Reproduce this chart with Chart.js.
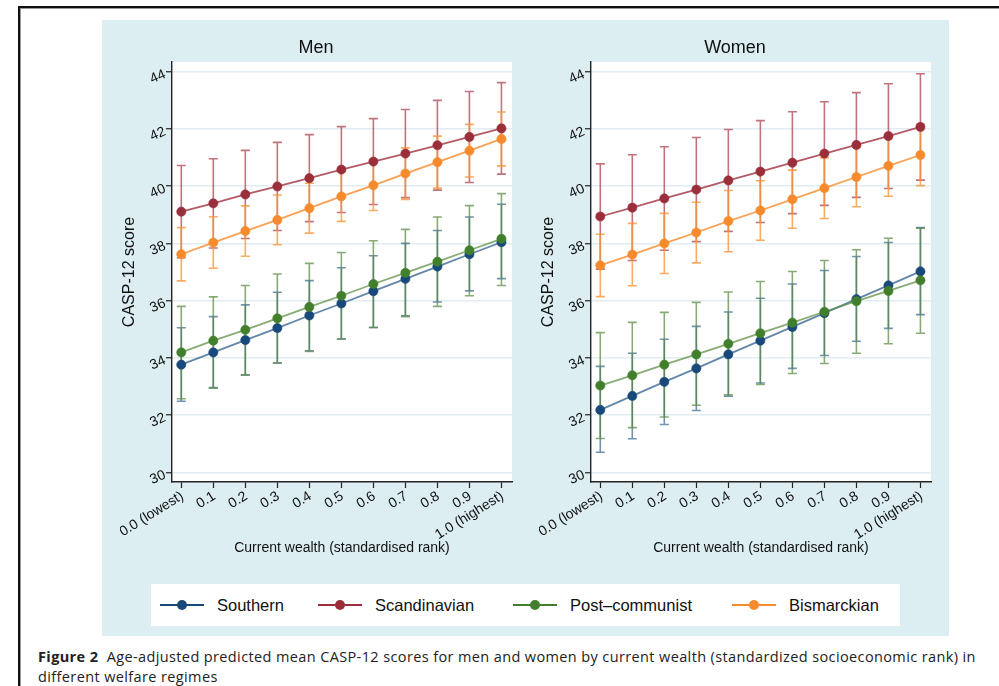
<!DOCTYPE html>
<html>
<head>
<meta charset="utf-8">
<script src="https://cdn.jsdelivr.net/npm/chart.js@4.4.1/dist/chart.umd.min.js"></script>
<style>
html,body{margin:0;padding:0;background:#fff;}
body{width:999px;height:686px;position:relative;overflow:hidden;font-family:"Liberation Sans",Arial,sans-serif;}
#frame{position:absolute;left:18px;top:6px;width:990px;height:700px;border-top:2px solid #111;border-left:2px solid #111;}
#frame2{position:absolute;left:20px;top:8px;width:990px;height:700px;border-top:1px solid #999;border-left:1px solid #999;}
#bg{position:absolute;left:102px;top:20px;width:847px;height:616px;background:#ddeef2;}
#cm{position:absolute;left:120px;top:20px;}
#cw{position:absolute;left:539px;top:20px;}
#legend{position:absolute;left:151px;top:584px;width:749px;height:42px;background:#fff;}
.item{position:absolute;top:0;height:42px;display:flex;align-items:center;font-size:16.5px;color:#111;white-space:nowrap;}
.mk{position:relative;width:44px;height:10px;margin-right:13px;}
.mk:before{content:"";position:absolute;left:0;right:0;top:4px;height:2px;background:var(--c);}
.mk:after{content:"";position:absolute;left:17px;top:0;width:10px;height:10px;border-radius:50%;background:var(--c);}
#cap{position:absolute;left:38px;top:647px;width:960px;font-family:"Open Sans",sans-serif;font-size:14.5px;letter-spacing:0.38px;line-height:20px;color:#222;white-space:nowrap;}
#cap b{font-weight:700;}
</style>
</head>
<body>
<div id="frame"></div>
<div id="frame2"></div>
<div id="bg"></div>
<canvas id="cm" width="405" height="560"></canvas>
<canvas id="cw" width="409" height="560"></canvas>
<div id="legend"></div>
<div id="cap"><b>Figure 2</b>&nbsp; Age-adjusted predicted mean CASP-12 scores for men and women by current wealth (standardized socioeconomic rank) in<br>different welfare regimes</div>
<script>
// ---------- data ----------
const wealth = [0, 0.1, 0.2, 0.3, 0.4, 0.5, 0.6, 0.7, 0.8, 0.9, 1.0];
const xTickLabels = ["0.0 (lowest)", "0.1", "0.2", "0.3", "0.4", "0.5", "0.6", "0.7", "0.8", "0.9", "1.0 (highest)"];
const yTicks = [30, 32, 34, 36, 38, 40, 42, 44];
const regimes = ["Southern", "Scandinavian", "Post\u2013communist", "Bismarckian"];

// Men
const southernMen   = [33.76,34.19,34.62,35.04,35.48,35.90,36.33,36.76,37.19,37.62,38.04];
const southernMenLo = [32.48,32.96,33.41,33.82,34.25,34.66,35.06,35.47,35.95,36.34,36.77];
const southernMenHi = [35.05,35.44,35.85,36.29,36.70,37.15,37.57,38.00,38.45,38.92,39.37];
const scandMen      = [39.11,39.40,39.71,39.99,40.28,40.58,40.86,41.14,41.43,41.72,42.02];
const scandMenLo    = [37.50,37.84,38.17,38.45,38.76,39.08,39.36,39.60,39.86,40.13,40.42];
const scandMenHi    = [40.72,40.96,41.25,41.53,41.80,42.08,42.36,42.68,43.00,43.31,43.62];
const postcomMen    = [34.19,34.60,34.98,35.38,35.78,36.17,36.58,36.97,37.36,37.76,38.16];
const postcomMenLo  = [32.57,32.94,33.39,33.82,34.22,34.66,35.06,35.44,35.80,36.17,36.53];
const postcomMenHi  = [35.80,36.13,36.53,36.93,37.30,37.68,38.09,38.49,38.92,39.32,39.74];
const bismMen       = [37.62,38.03,38.43,38.82,39.23,39.64,40.03,40.44,40.84,41.24,41.65];
const bismMenLo     = [36.69,37.13,37.55,37.95,38.36,38.77,39.15,39.54,39.93,40.32,40.71];
const bismMenHi     = [38.55,38.93,39.31,39.69,40.10,40.51,40.91,41.34,41.75,42.16,42.59];

// Women
const southernWomen   = [32.18,32.67,33.16,33.63,34.12,34.60,35.08,35.56,36.05,36.53,37.02];
const southernWomenLo = [30.70,31.17,31.67,32.16,32.66,33.12,33.63,34.08,34.58,35.03,35.51];
const southernWomenHi = [33.70,34.16,34.65,35.10,35.60,36.08,36.58,37.05,37.54,38.03,38.55];
const scandWomen      = [38.94,39.25,39.57,39.88,40.20,40.51,40.82,41.14,41.44,41.75,42.07];
const scandWomenLo    = [37.10,37.40,37.76,38.06,38.42,38.73,39.04,39.33,39.61,39.92,40.21];
const scandWomenHi    = [40.78,41.10,41.38,41.70,41.98,42.29,42.60,42.95,43.27,43.58,43.93];
const postcomWomen    = [33.03,33.39,33.76,34.12,34.49,34.86,35.23,35.61,35.98,36.34,36.71];
const postcomWomenLo  = [31.18,31.56,31.93,32.34,32.71,33.07,33.45,33.80,34.16,34.49,34.86];
const postcomWomenHi  = [34.88,35.24,35.59,35.94,36.30,36.67,37.02,37.40,37.78,38.18,38.53];
const bismWomen       = [37.23,37.61,38.00,38.38,38.78,39.15,39.54,39.93,40.32,40.71,41.09];
const bismWomenLo     = [36.14,36.52,36.95,37.32,37.71,38.11,38.53,38.87,39.28,39.65,40.02];
const bismWomenHi     = [38.32,38.70,39.05,39.44,39.85,40.19,40.56,40.99,41.36,41.77,42.16];

// ---------- styles ----------
const dotColors  = ["#18497a", "#9a2f3b", "#427f2c", "#f68b2e"];
const lineColors = ["rgba(40,88,135,0.72)", "rgba(160,50,62,0.8)", "rgba(95,145,70,0.75)", "rgba(247,145,55,0.85)"];
const ciColors   = ["rgba(40,88,135,0.65)", "rgba(165,55,68,0.7)", "rgba(85,135,60,0.7)", "rgba(248,150,60,0.8)"];
const FONT = '"Liberation Sans", Arial, sans-serif';

const errorBars = {
  id: 'errorBars',
  beforeDatasetsDraw(chart) {
    const {ctx, scales: {x, y}} = chart;
    ctx.save();
    chart.data.datasets.forEach(ds => {
      ctx.strokeStyle = ds.ciColor;
      ctx.lineWidth = 1.6;
      ds.lo.forEach((lo, i) => {
        const px = x.getPixelForValue(wealth[i]);
        const p1 = y.getPixelForValue(lo);
        const p2 = y.getPixelForValue(ds.hi[i]);
        ctx.beginPath();
        ctx.moveTo(px, p1); ctx.lineTo(px, p2);
        ctx.moveTo(px - 4.5, p1); ctx.lineTo(px + 4.5, p1);
        ctx.moveTo(px - 4.5, p2); ctx.lineTo(px + 4.5, p2);
        ctx.stroke();
      });
    });
    ctx.restore();
  }
};

const panelDecor = {
  id: 'panelDecor',
  beforeDraw(chart) {
    const {ctx, chartArea: a} = chart;
    ctx.save();
    ctx.fillStyle = '#ffffff';
    ctx.fillRect(a.left, a.top, a.right - a.left, a.bottom - a.top);
    ctx.restore();
  },
  afterDraw(chart) {
    const {ctx, chartArea: a, scales: {x, y}} = chart;
    ctx.save();
    ctx.fillStyle = '#111';
    ctx.font = '14px ' + FONT;
    ctx.textAlign = 'right';
    ctx.textBaseline = 'middle';
    yTicks.forEach(v => {
      const py = y.getPixelForValue(v);
      ctx.save();
      ctx.translate(a.left - 7, py + 2);
      ctx.rotate(-24 * Math.PI / 180);
      ctx.fillText(String(v), 0, 0);
      ctx.restore();
    });
    wealth.forEach((v, i) => {
      const px = x.getPixelForValue(v);
      ctx.save();
      ctx.translate(px + 1, a.bottom + 13);
      ctx.rotate(-32 * Math.PI / 180);
      ctx.fillText(xTickLabels[i], 0, 0);
      ctx.restore();
    });
    ctx.restore();
  }
};

function makePanel(id, title, means, los, his, yWidth, rightPad) {
  const datasets = regimes.map((name, k) => ({
    label: name,
    data: wealth.map((w, i) => ({x: w, y: means[k][i]})),
    lo: los[k], hi: his[k], ciColor: ciColors[k],
    borderColor: lineColors[k], borderWidth: 1.8,
    pointBackgroundColor: dotColors[k], pointBorderColor: dotColors[k],
    pointRadius: 4.6, pointBorderWidth: 0.6, pointHoverRadius: 4.6,
    tension: 0, fill: false, order: 4 - k
  }));
  return new Chart(document.getElementById(id), {
    type: 'line',
    data: {datasets},
    plugins: [panelDecor, errorBars],
    options: {
      responsive: false, animation: false, devicePixelRatio: 1,
      layout: {padding: {left: 0, right: rightPad, top: 0, bottom: 0}},
      plugins: {
        legend: {display: false}, tooltip: {enabled: false},
        title: {display: true, text: title, color: '#111',
                font: {family: FONT, size: 18, weight: 'normal'},
                padding: {top: 17, bottom: 3.4}}
      },
      scales: {
        x: {
          type: 'linear', min: -0.029, max: 1.033,
          afterBuildTicks: s => { s.ticks = wealth.map(v => ({value: v})); },
          afterFit: s => { s.height = 98; },
          border: {display: true, color: '#222', width: 1.4},
          grid: {drawOnChartArea: false, drawTicks: true, tickLength: 6, tickColor: '#222', tickWidth: 1.2},
          ticks: {display: false},
          title: {display: true, text: 'Current wealth (standardised rank)', color: '#111',
                  font: {family: FONT, size: 14}, padding: {top: 0, bottom: 23}}
        },
        y: {
          type: 'linear', min: 29.66, max: 44.34,
          afterBuildTicks: s => { s.ticks = yTicks.map(v => ({value: v})); },
          afterFit: s => { s.width = yWidth; },
          border: {display: true, color: '#222', width: 1.4},
          grid: {color: '#e1edf2', lineWidth: 1.5, drawTicks: true, tickLength: 6, tickColor: '#222', tickWidth: 1.2},
          ticks: {display: false},
          title: {display: true, text: 'CASP-12 score', color: '#111',
                  font: {family: FONT, size: 16}, padding: {top: 0, bottom: 0}}
        }
      }
    }
  });
}

makePanel('cm', 'Men',
  [southernMen, scandMen, postcomMen, bismMen],
  [southernMenLo, scandMenLo, postcomMenLo, bismMenLo],
  [southernMenHi, scandMenHi, postcomMenHi, bismMenHi], 52, 13);
makePanel('cw', 'Women',
  [southernWomen, scandWomen, postcomWomen, bismWomen],
  [southernWomenLo, scandWomenLo, postcomWomenLo, bismWomenLo],
  [southernWomenHi, scandWomenHi, postcomWomenHi, bismWomenHi], 52, 17);

// ---------- legend ----------
const legendX = [9, 167, 362, 581];
const legend = document.getElementById('legend');
regimes.forEach((name, k) => {
  const it = document.createElement('div');
  it.className = 'item';
  it.style.left = legendX[k] + 'px';
  const mk = document.createElement('span');
  mk.className = 'mk';
  mk.style.setProperty('--c', dotColors[k]);
  it.appendChild(mk);
  it.appendChild(document.createTextNode(name));
  legend.appendChild(it);
});
</script>
</body>
</html>
